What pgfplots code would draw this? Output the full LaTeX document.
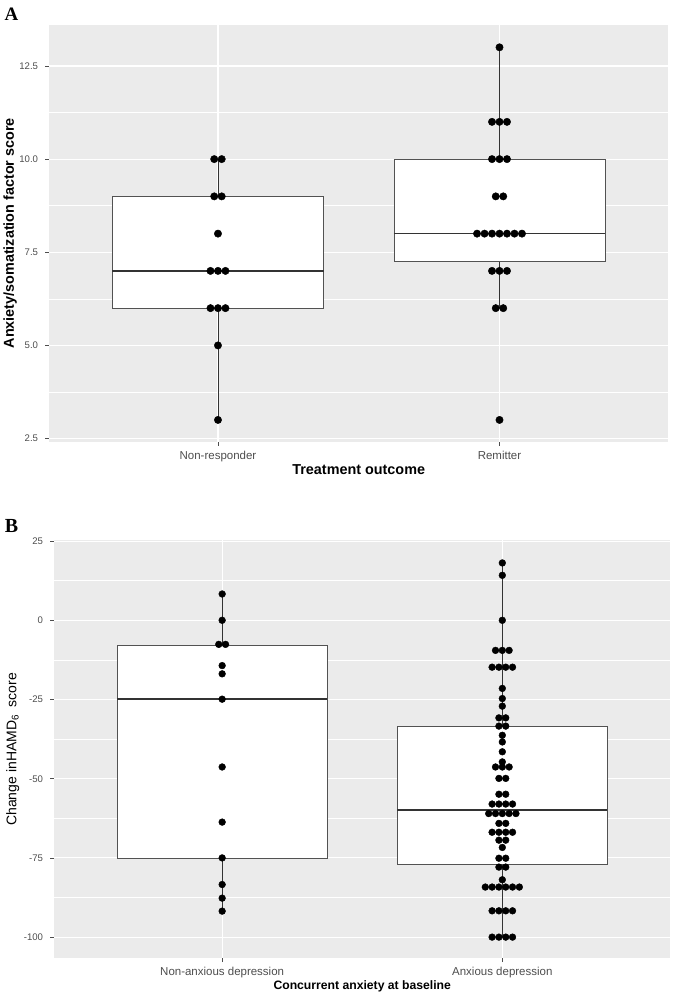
\documentclass[border=0pt]{standalone}
\usepackage{pgfplots}
\pgfplotsset{compat=1.18}
\usepackage{fontspec}
\setmainfont{Liberation Sans}
\newfontfamily\serifb{Liberation Serif}
\definecolor{ggbg}{HTML}{EBEBEB}
\definecolor{ggtick}{HTML}{4D4D4D}
\definecolor{ggline}{HTML}{333333}
\pgfplotsset{
  ggstyle/.style={
    scale only axis,
    axis background/.style={fill=ggbg},
    axis line style={draw=none},
    xmin=0.4, xmax=2.6,
    xtick={1,2},
    xmajorgrids=true, ymajorgrids=true, yminorgrids=true,
    major grid style={white, line width=1.1pt},
    minor grid style={white, line width=0.55pt},
    tick align=outside, tick pos=left,
    major tick length=4pt, minor tick length=0pt,
    tick style={ggtick, line width=0.5pt},
    yticklabel style={font=\fontsize{9.6}{11}\selectfont, text=ggtick, xshift=-3.5pt},
    xticklabel style={font=\fontsize{11.5}{13}\selectfont, text=ggtick, yshift=-2pt},
  },
  whisk/.style={ggline, line width=0.6pt, mark=none},
  boxs/.style={fill=white, draw=ggline!85!white, line width=0.7pt, mark=none},
  med/.style={ggline, line width=1.4pt, mark=none},
}
\begin{document}
\begin{tikzpicture}
\path (0pt,0pt) rectangle (672pt,-995pt);
% ---------------- Panel A ----------------
\begin{axis}[ggstyle,
  at={(48pt,-442pt)}, anchor=south west,
  width=620pt, height=417pt,
  ymin=2.42, ymax=13.6,
  ytick={2.5,5,7.5,10,12.5},
  yticklabels={2.5,5.0,7.5,10.0,12.5},
  minor ytick={3.75,6.25,8.75,11.25},
  xticklabels={Non-responder,Remitter},
  xlabel={Treatment outcome},
  ylabel={Anxiety/somatization factor score},
  xlabel style={font=\bfseries\fontsize{14.4}{16}\selectfont, at={(axis description cs:0.5,-0.067)}, anchor=center},
  ylabel style={font=\bfseries\fontsize{14.4}{16}\selectfont, at={(axis description cs:-0.063,0.5)}, anchor=center},
]
% Non-responder box
\addplot[whisk] coordinates {(1,3) (1,6)};
\addplot[whisk] coordinates {(1,9) (1,10)};
\addplot[boxs] coordinates {(0.625,6) (1.375,6) (1.375,9) (0.625,9)} -- cycle;
\addplot[med] coordinates {(0.625,7) (1.375,7)};
% Remitter box
\addplot[whisk] coordinates {(2,6) (2,7.25)};
\addplot[whisk] coordinates {(2,10) (2,13)};
\addplot[boxs] coordinates {(1.625,7.25) (2.375,7.25) (2.375,10) (1.625,10)} -- cycle;
\addplot[med] coordinates {(1.625,8) (2.375,8)};
\addplot[only marks, mark=*, mark size=3.7pt, black] coordinates {
(0.9867,10) (1.0133,10)
(0.9867,9) (1.0133,9)
(1,8)
(0.9734,7) (1,7) (1.0266,7)
(0.9734,6) (1,6) (1.0266,6)
(1,5)
(1,3)
};
\addplot[only marks, mark=*, mark size=3.7pt, black] coordinates {
(2,13)
(1.9734,11) (2,11) (2.0266,11)
(1.9734,10) (2,10) (2.0266,10)
(1.9867,9) (2.0133,9)
(1.9202,8) (1.9468,8) (1.9734,8) (2,8) (2.0266,8) (2.0532,8) (2.0798,8)
(1.9734,7) (2,7) (2.0266,7)
(1.9867,6) (2.0133,6)
(2,3)
};
\end{axis}
\node[font=\serifb\bfseries\fontsize{19}{19}\selectfont] at (10.5pt,-14pt) {A};
% ---------------- Panel B ----------------
\begin{axis}[ggstyle,
  at={(53pt,-959pt)}, anchor=south west,
  width=617pt, height=418pt,
  ymin=-106.6, ymax=25.2,
  ytick={-100,-75,-50,-25,0,25},
  yticklabels={-100,-75,-50,-25,0,25},
  minor ytick={-87.5,-62.5,-37.5,-12.5,12.5},
  xticklabels={Non-anxious depression,Anxious depression},
  xlabel={Concurrent anxiety at baseline},
  ylabel={Change inHAMD\textsubscript{6}\ \ score},
  xlabel style={font=\bfseries\fontsize{12.2}{14}\selectfont, at={(axis description cs:0.5,-0.067)}, anchor=center},
  ylabel style={font=\fontsize{14}{16}\selectfont, at={(axis description cs:-0.067,0.5)}, anchor=center},
]
% Non-anxious box
\addplot[whisk] coordinates {(1,-91.8) (1,-75)};
\addplot[whisk] coordinates {(1,-7.9) (1,8.3)};
\addplot[boxs] coordinates {(0.625,-75) (1.375,-75) (1.375,-7.9) (0.625,-7.9)} -- cycle;
\addplot[med] coordinates {(0.625,-24.9) (1.375,-24.9)};
% Anxious box
\addplot[whisk] coordinates {(2,-100) (2,-77)};
\addplot[whisk] coordinates {(2,-33.4) (2,18.1)};
\addplot[boxs] coordinates {(1.625,-77) (2.375,-77) (2.375,-33.4) (1.625,-33.4)} -- cycle;
\addplot[med] coordinates {(1.625,-59.9) (2.375,-59.9)};
\addplot[only marks, mark=*, mark size=3.4pt, black] coordinates {
(1,8.3) (1,0) (0.98785,-7.6) (1.01215,-7.6) (1,-14.3) (1,-16.9) (1,-24.9)
(1,-46.3) (1,-63.7) (1,-75) (1,-83.4) (1,-87.7) (1,-91.8)
};
\addplot[only marks, mark=*, mark size=3.4pt, black] coordinates {
(2,18.1) (2,14.2) (2,0)
(1.9757,-9.5) (2,-9.5) (2.0243,-9.5)
(1.96355,-14.8) (1.98785,-14.8) (2.01215,-14.8) (2.03645,-14.8)
(2,-21.5) (2,-24.7) (2,-27.1)
(1.98785,-30.8) (2.01215,-30.8)
(1.98785,-33.4) (2.01215,-33.4)
(2,-36.3) (2,-38.4) (2,-41.5) (2,-44.7)
(1.9757,-46.3) (2,-46.3) (2.0243,-46.3)
(1.98785,-49.9) (2.01215,-49.9)
(1.98785,-54.9) (2.01215,-54.9)
(1.96355,-58.0) (1.98785,-58.0) (2.01215,-58.0) (2.03645,-58.0)
(1.9514,-61.0) (1.9757,-61.0) (2,-61.0) (2.0243,-61.0) (2.0486,-61.0)
(1.98785,-64.1) (2.01215,-64.1)
(1.96355,-66.9) (1.98785,-66.9) (2.01215,-66.9) (2.03645,-66.9)
(1.98785,-69.4) (2.01215,-69.4)
(2,-71.7)
(1.98785,-75.1) (2.01215,-75.1)
(1.98785,-77.9) (2.01215,-77.9)
(2,-81.9)
(1.93925,-84.2) (1.96355,-84.2) (1.98785,-84.2) (2.01215,-84.2) (2.03645,-84.2) (2.06075,-84.2)
(1.96355,-91.7) (1.98785,-91.7) (2.01215,-91.7) (2.03645,-91.7)
(1.96355,-100) (1.98785,-100) (2.01215,-100) (2.03645,-100)
};
\end{axis}
\node[font=\serifb\bfseries\fontsize{20}{20}\selectfont] at (10.5pt,-527pt) {B};
\end{tikzpicture}
\end{document}
